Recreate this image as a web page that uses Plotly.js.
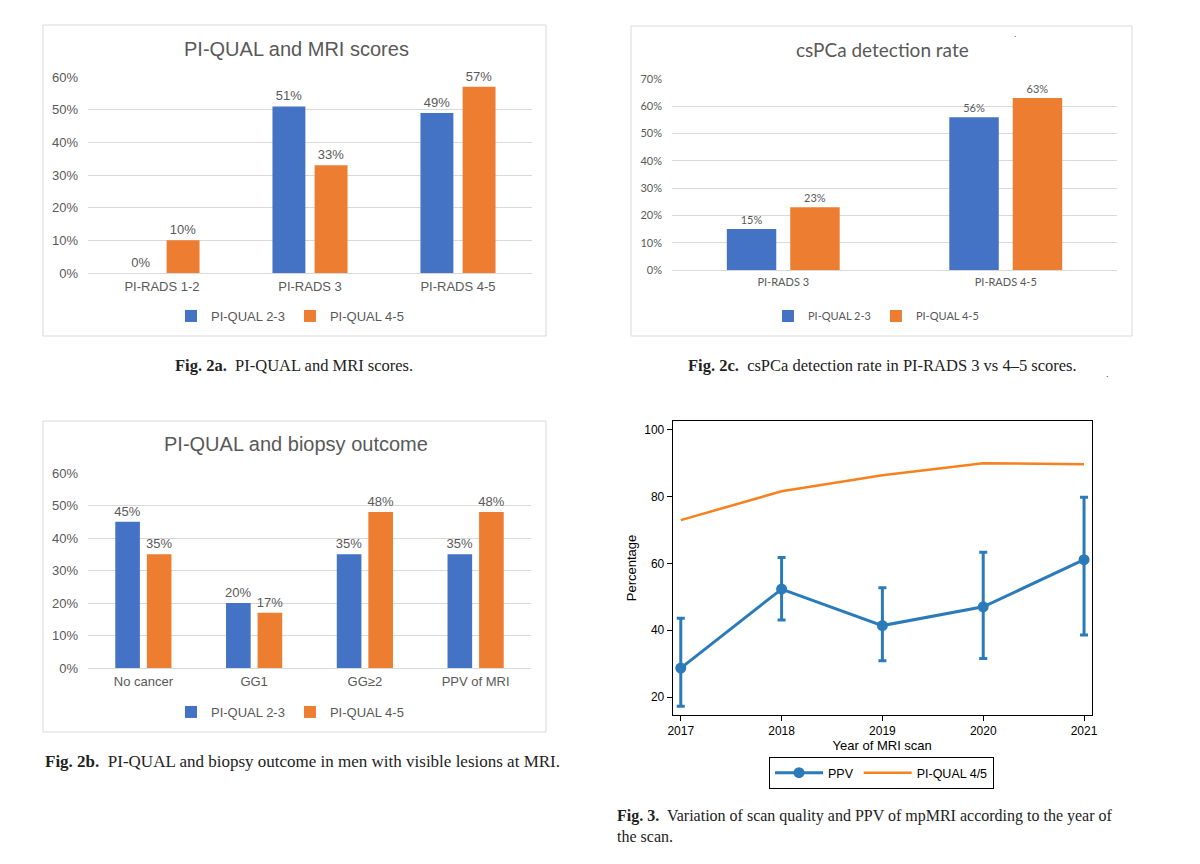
<!DOCTYPE html>
<html>
<head>
<meta charset="utf-8">
<script src="https://cdn.plot.ly/plotly-3.0.1.min.js"></script>
<style>
  html, body { margin: 0; padding: 0; background: #fff; }
  #fig { width: 1200px; height: 864px; }
</style>
</head>
<body>
<div id="fig"></div>
<script>
// Fig. 2a - PI-QUAL and MRI scores
const mriCats = ['PI-RADS 1-2', 'PI-RADS 3', 'PI-RADS 4-5'];
const mriQual23 = [0, 51, 49];
const mriQual45 = [10, 33, 57];

// Fig. 2b - PI-QUAL and biopsy outcome
const biopsyCats = ['No cancer', 'GG1', 'GG≥2', 'PPV of MRI'];
const biopsyQual23 = [45, 20, 35, 35];
const biopsyQual45 = [35, 17, 48, 48];

// Fig. 2c - csPCa detection rate
const detCats = ['PI-RADS 3', 'PI-RADS 4-5'];
const detQual23 = [15, 56];
const detQual45 = [23, 63];

// Fig. 3 - PPV and PI-QUAL 4/5 by year
const years = [2017, 2018, 2019, 2020, 2021];
const ppv = [28.7, 52.3, 41.4, 47.0, 61.1];
const ppvUpper = [43.6, 61.7, 52.7, 63.3, 79.7];
const ppvLower = [17.3, 43.1, 30.9, 31.6, 38.6];
const piqual45 = [72.9, 81.5, 86.3, 89.9, 89.6];

const W = 1200, H = 864;
const px = x => x / W;
const py = y => 1 - y / H;

const BLUE = '#4472C4', ORANGE = '#ED7D31', GREY = '#595959';
const ARIAL = 'Liberation Sans, Arial, sans-serif';
const CALIBRI = 'Lato, Carlito, Calibri, sans-serif';
const SERIF = 'Liberation Serif, Times New Roman, serif';

function barTrace(cats, vals, name, color, xa, ya, legend, family, size) {
  return {
    type: 'bar', x: cats, y: vals, name: name,
    marker: {color: color},
    text: vals.map(v => v + '%'),
    textposition: 'outside',
    textfont: {family: family, size: size, color: GREY},
    constraintext: 'none',
    cliponaxis: false,
    xaxis: xa, yaxis: ya, legend: legend,
    hovertemplate: '%{x}: %{y}%<extra>' + name + '</extra>'
  };
}

const data = [
  barTrace(mriCats, mriQual23, 'PI-QUAL 2-3', BLUE, 'x', 'y', 'legend', ARIAL, 13),
  barTrace(mriCats, mriQual45, 'PI-QUAL 4-5', ORANGE, 'x', 'y', 'legend', ARIAL, 13),
  barTrace(biopsyCats, biopsyQual23, 'PI-QUAL 2-3', BLUE, 'x2', 'y2', 'legend2', ARIAL, 13),
  barTrace(biopsyCats, biopsyQual45, 'PI-QUAL 4-5', ORANGE, 'x2', 'y2', 'legend2', ARIAL, 13),
  barTrace(detCats, detQual23, 'PI-QUAL 2-3', BLUE, 'x3', 'y3', 'legend3', CALIBRI, 11),
  barTrace(detCats, detQual45, 'PI-QUAL 4-5', ORANGE, 'x3', 'y3', 'legend3', CALIBRI, 11),
  {
    type: 'scatter', mode: 'lines+markers', x: years, y: ppv, name: 'PPV',
    line: {color: '#2B7BBA', width: 3},
    marker: {color: '#2B7BBA', size: 11},
    error_y: {
      type: 'data', symmetric: false,
      array: ppvUpper.map((v, i) => v - ppv[i]),
      arrayminus: ppv.map((v, i) => v - ppvLower[i]),
      color: '#2B7BBA', thickness: 3, width: 4
    },
    xaxis: 'x4', yaxis: 'y4', legend: 'legend4'
  },
  {
    type: 'scatter', mode: 'lines', x: years, y: piqual45, name: 'PI-QUAL 4/5',
    line: {color: '#F5821F', width: 2.5},
    xaxis: 'x4', yaxis: 'y4', legend: 'legend4'
  }
];

function catAxis(x0, x1, anchor, family, size) {
  return {
    domain: [px(x0), px(x1)], anchor: anchor, type: 'category',
    showgrid: false, showline: false, zeroline: false, ticks: '',
    tickfont: {family: family, size: size, color: GREY},
    ticklabelstandoff: 4, fixedrange: true
  };
}
function pctAxis(y0, y1, anchor, top, family, size) {
  return {
    domain: [py(y1), py(y0)], anchor: anchor, range: [0, top], dtick: 10,
    ticksuffix: '%', showline: false, ticks: '',
    gridcolor: '#D9D9D9', gridwidth: 1,
    zeroline: true, zerolinecolor: '#D9D9D9', zerolinewidth: 1,
    tickfont: {family: family, size: size, color: GREY},
    ticklabelstandoff: 9, fixedrange: true
  };
}
function barLegend(cx, cy, family, size) {
  return {
    orientation: 'h', x: px(cx), xanchor: 'center', y: py(cy), yanchor: 'middle',
    font: {family: family, size: size, color: GREY},
    itemwidth: 30, tracegroupgap: 0, bgcolor: 'rgba(0,0,0,0)'
  };
}
function boxShape(x0, y0, x1, y1) {
  return {type: 'rect', xref: 'paper', yref: 'paper',
    x0: px(x0), x1: px(x1), y0: py(y1), y1: py(y0),
    line: {color: '#D9D9D9', width: 1}, fillcolor: 'rgba(0,0,0,0)'};
}
function label(text, x, y, family, size, color, xanchor, align) {
  return {text: text, xref: 'paper', yref: 'paper', x: px(x), y: py(y),
    xanchor: xanchor || 'center', yanchor: 'middle', align: align || 'center',
    showarrow: false, font: {family: family, size: size, color: color}};
}

const layout = {
  width: W, height: H,
  margin: {l: 0, r: 0, t: 0, b: 0},
  paper_bgcolor: '#fff', plot_bgcolor: '#fff',
  bargap: 0.43, bargroupgap: 0.22,
  showlegend: true,

  xaxis: catAxis(88, 532, 'y', ARIAL, 13),
  yaxis: pctAxis(77, 273, 'x', 60, ARIAL, 13),
  xaxis2: catAxis(88, 531, 'y2', ARIAL, 13),
  yaxis2: pctAxis(473, 668, 'x2', 60, ARIAL, 13),
  xaxis3: catAxis(672, 1117, 'y3', CALIBRI, 11),
  yaxis3: pctAxis(79, 270, 'x3', 70, CALIBRI, 11),

  xaxis4: {
    domain: [px(672.7), px(1091.7)], anchor: 'y4',
    range: [2016.92, 2021.076], tickvals: years,
    showgrid: false, zeroline: false,
    showline: true, linecolor: '#000', linewidth: 1, mirror: true,
    ticks: 'outside', ticklen: 5, tickwidth: 1, tickcolor: '#000',
    tickfont: {family: ARIAL, size: 12, color: '#000'},
    title: {text: 'Year of MRI scan', font: {family: ARIAL, size: 13, color: '#000'}, standoff: 2},
    fixedrange: true
  },
  yaxis4: {
    domain: [py(715), py(421)], anchor: 'x4',
    range: [14.7, 102.5], tickvals: [20, 40, 60, 80, 100],
    showgrid: false, zeroline: false,
    showline: true, linecolor: '#000', linewidth: 1, mirror: true,
    ticks: 'outside', ticklen: 5, tickwidth: 1, tickcolor: '#000',
    tickfont: {family: ARIAL, size: 12, color: '#000'},
    title: {text: 'Percentage', font: {family: ARIAL, size: 13, color: '#000'}, standoff: 4},
    fixedrange: true
  },

  legend: barLegend(290, 316, ARIAL, 13),
  legend2: barLegend(290, 712, ARIAL, 13),
  legend3: barLegend(876, 316, CALIBRI, 11),
  legend4: {
    orientation: 'h', x: px(881.5), xanchor: 'center', y: py(773), yanchor: 'middle',
    font: {family: ARIAL, size: 12.5, color: '#000'},
    bordercolor: '#000', borderwidth: 1, bgcolor: '#fff', itemwidth: 48
  },

  shapes: [
    boxShape(43, 25, 546, 336),
    boxShape(43, 421, 546, 732),
    boxShape(631, 26, 1132, 336)
  ],

  annotations: [
    label('PI-QUAL and MRI scores', 296, 49, ARIAL, 20, GREY),
    label('PI-QUAL and biopsy outcome', 296, 444, ARIAL, 20, GREY),
    label('csPCa detection rate', 882, 49, CALIBRI, 19, GREY),
    label('<b>Fig. 2a.</b>  PI-QUAL and MRI scores.', 294, 365, SERIF, 16.5, '#222'),
    label('<b>Fig. 2b.</b>  PI-QUAL and biopsy outcome in men with visible lesions at MRI.', 43, 761, SERIF, 17, '#222', 'left'),
    label('<b>Fig. 2c.</b>  csPCa detection rate in PI-RADS 3 vs 4\u20135 scores.', 882, 365, SERIF, 16.5, '#222'),
    label('<b>Fig. 3.</b>  Variation of scan quality and PPV of mpMRI according to the year of<br>the scan.',
      615, 826, SERIF, 16, '#222', 'left', 'left'),
    label('.', 1015, 34, ARIAL, 9, '#333'),
    label('.', 1107, 374, ARIAL, 9, '#333')
  ]
};

Plotly.newPlot('fig', data, layout, {displayModeBar: false});
</script>
</body>
</html>
